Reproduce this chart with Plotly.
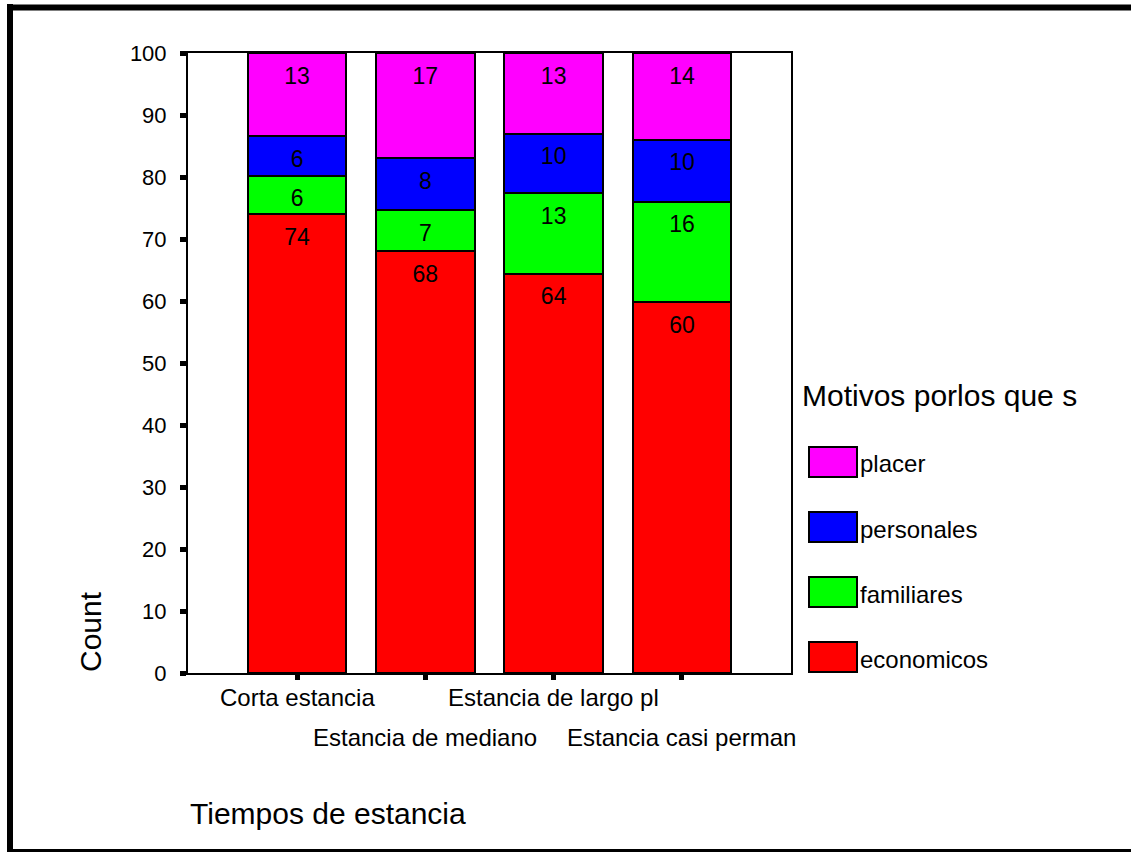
import plotly.graph_objects as go

# datos (porcentajes por tiempo de estancia)
categorias = ["Corta estancia", "Estancia de mediano", "Estancia de largo pl", "Estancia casi perman"]
economicos = [74.0, 68.0, 64.4, 59.8]
familiares = [6.2, 6.6, 13.0, 16.2]
personales = [6.4, 8.4, 9.6, 10.0]
placer = [13.4, 17.0, 13.0, 14.0]
motivos = ["economicos", "familiares", "personales", "placer"]
colores = ["#ff0000", "#00ff00", "#0000ff", "#ff00ff"]
y_ticks = list(range(0, 101, 10))

FUENTE = "Liberation Sans, Arial, sans-serif"
W, H = 1134, 852
L, R, T, B = 188, 791, 53, 673  # area del grafico en pixeles


# convierte pixeles a coordenadas "paper"
def px_x(px):
    return (px - L) / (R - L)


def px_y(py):
    return (B - py) / (B - T)


fig = go.Figure()
series = [economicos, familiares, personales, placer]
base = [0] * len(categorias)
for nombre, valores, color in zip(motivos, series, colores):
    fig.add_trace(go.Bar(x=categorias, y=valores, name=nombre,
                         marker=dict(color=color, line=dict(color="black", width=2)),
                         showlegend=False, hoverinfo="skip"))
    tope = [b + v for b, v in zip(base, valores)]
    # etiquetas cerca de la parte superior de cada segmento
    fig.add_trace(go.Scatter(x=categorias, y=[t - 4.0 for t in tope], mode="text",
                             text=[f"{v:.0f}" for v in valores],
                             textfont=dict(size=23, color="black", family=FUENTE),
                             showlegend=False, hoverinfo="skip", cliponaxis=False))
    base = tope

anotaciones = []
# etiquetas del eje x en dos filas escalonadas
for i, cat in enumerate(categorias):
    fila = 697 if i % 2 == 0 else 737
    anotaciones.append(dict(x=cat, xref="x", y=px_y(fila), yref="paper", text=cat,
                            showarrow=False, xanchor="center", yanchor="middle",
                            font=dict(size=24)))

anotaciones.append(dict(x=px_x(90), y=px_y(632), xref="paper", yref="paper", text="Count",
                        textangle=-90, showarrow=False, xanchor="center", yanchor="middle",
                        font=dict(size=30)))
anotaciones.append(dict(x=px_x(188), y=px_y(813), xref="paper", yref="paper",
                        text="Tiempos de estancia", xanchor="left", yanchor="middle",
                        showarrow=False, font=dict(size=30)))
anotaciones.append(dict(x=px_x(800), y=px_y(395), xref="paper", yref="paper",
                        text="Motivos porlos que s", xanchor="left", yanchor="middle",
                        showarrow=False, font=dict(size=30)))

formas = []
# leyenda hecha a mano (placer arriba, economicos abajo)
for k, (nombre, color) in enumerate(zip(motivos[::-1], colores[::-1])):
    c = 462 + 65 * k
    formas.append(dict(type="rect", xref="paper", yref="paper",
                       x0=px_x(809), x1=px_x(857), y0=px_y(c + 15), y1=px_y(c - 15),
                       fillcolor=color, line=dict(color="black", width=2)))
    anotaciones.append(dict(x=px_x(858), y=px_y(c + 2), xref="paper", yref="paper", text=nombre,
                            xanchor="left", yanchor="middle", showarrow=False,
                            font=dict(size=24)))

# marco exterior: izquierda, arriba y abajo (la derecha queda fuera de la imagen)
marco = [(10, 4, 10, 856), (7, 7.5, 1131, 7.5), (7, 852, 1131, 852)]
for x0, y0, x1, y1 in marco:
    formas.append(dict(type="line", xref="paper", yref="paper",
                       x0=px_x(x0), y0=px_y(y0), x1=px_x(x1), y1=px_y(y1),
                       line=dict(color="black", width=6)))

fig.update_layout(
    barmode="stack", bargap=0.23,
    width=W, height=H, autosize=False,
    margin=dict(l=L, r=W - R, t=T, b=H - B, pad=0),
    paper_bgcolor="white", plot_bgcolor="white",
    font=dict(family=FUENTE, color="black"),
    annotations=anotaciones, shapes=formas,
    xaxis=dict(type="category", range=[-0.85, 3.85], showline=True, linecolor="black",
               linewidth=2, mirror=True, ticks="outside", ticklen=5, tickwidth=5,
               tickcolor="black", showticklabels=False, showgrid=False),
    yaxis=dict(range=[0, 100], tickvals=y_ticks, showline=True, linecolor="black",
               linewidth=2, mirror=True, ticks="outside", ticklen=6, tickwidth=5,
               tickcolor="black", tickfont=dict(size=22), ticklabelstandoff=9,
               showgrid=False, zeroline=False),
)

# sin margen ni barras de desplazamiento para que la figura ocupe la ventana
fig.write_html("out.html", config={"displayModeBar": False},
               post_script="document.body.style.margin='0';document.body.style.overflow='hidden';")
